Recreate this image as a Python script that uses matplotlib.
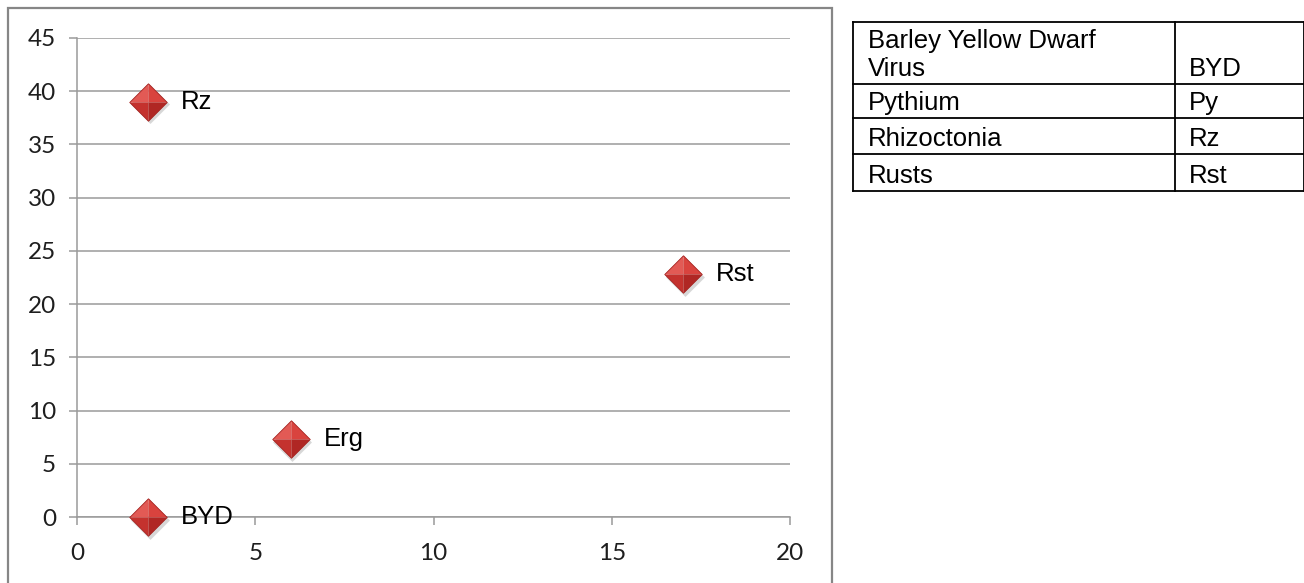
import matplotlib
matplotlib.use("Agg")
import matplotlib.pyplot as plt
from matplotlib.transforms import offset_copy

# Disease points: x position, y position, short label
labels = ["Rz", "Rst", "Erg", "BYD"]
x_vals = [2, 17, 6, 2]
y_vals = [39, 22.8, 7.3, 0]

x_ticks = [0, 5, 10, 15, 20]
y_ticks = [0, 5, 10, 15, 20, 25, 30, 35, 40, 45]

# Abbreviation key
key_names = ["Barley Yellow Dwarf\nVirus", "Pythium", "Rhizoctonia", "Rusts"]
key_abbrev = ["BYD", "Py", "Rz", "Rst"]

W, H, DPI = 1304, 583, 100
fig = plt.figure(figsize=(W / DPI, H / DPI), dpi=DPI)
fig.patch.set_facecolor("white")

# overlay axes in pixel coordinates for the frame and the key table
frame = fig.add_axes([0, 0, 1, 1])
frame.set_xlim(0, W)
frame.set_ylim(H, 0)
frame.axis("off")

ax = fig.add_axes([77 / W, 1 - 517 / H, (790 - 77) / W, (517 - 38) / H])
ax.set_xlim(0, 20)
ax.set_ylim(0, 45)
ax.set_xticks(x_ticks)
ax.set_yticks(y_ticks)
ax.yaxis.grid(True, color="#9a9a9a", linewidth=1.1)
ax.set_axisbelow(True)
for side in ["top", "right"]:
    ax.spines[side].set_visible(False)
for side in ["left", "bottom"]:
    ax.spines[side].set_color("#9a9a9a")
    ax.spines[side].set_linewidth(1.1)
ax.tick_params(axis="both", direction="out", length=6, width=1.1, color="#9a9a9a",
               labelsize=17.5, labelcolor="#1e1e1e")
ax.tick_params(axis="y", pad=9)
ax.tick_params(axis="x", pad=13)
for t in ax.get_xticklabels() + ax.get_yticklabels():
    t.set_family("Lato")

# bevelled diamond markers built from four triangular facets
facets = {
    "tl": ([(0, 0), (-1, 0), (0, 1), (0, 0)], "#e25a55"),
    "tr": ([(0, 0), (0, 1), (1, 0), (0, 0)], "#d9433e"),
    "bl": ([(0, 0), (-1, 0), (0, -1), (0, 0)], "#c4322e"),
    "br": ([(0, 0), (1, 0), (0, -1), (0, 0)], "#b02724"),
}
ms = 27
diamond = [(0, 1), (1, 0), (0, -1), (-1, 0), (0, 1)]
shadow_tr = offset_copy(ax.transData, fig=fig, x=1.5, y=-2.5, units="dots")
ax.plot(x_vals, y_vals, linestyle="none", marker=diamond, markersize=ms + 1,
        markerfacecolor="#bdbdbd", markeredgewidth=0, alpha=0.6,
        transform=shadow_tr, clip_on=False, zorder=3)
for verts, col in facets.values():
    ax.plot(x_vals, y_vals, linestyle="none", marker=verts, markersize=ms,
            markerfacecolor=col, markeredgewidth=0, clip_on=False, zorder=4)
ax.plot(x_vals, y_vals, linestyle="none", marker=diamond, markersize=ms,
        markerfacecolor="none", markeredgecolor="#a52320", markeredgewidth=0.6,
        clip_on=False, zorder=5)

for lab, xv, yv in zip(labels, x_vals, y_vals):
    ax.annotate(lab, (xv, yv), xytext=(23.5, 0), textcoords="offset points",
                ha="left", va="center", fontsize=18.5, family="Liberation Sans",
                color="black", zorder=6, annotation_clip=False)

# chart frame
frame.plot([8, 8, 832, 832], [H + 5, 8, 8, H + 5], color="#868686", linewidth=1.6,
           solid_joinstyle="miter")

# key table
tl, tm, tr = 853, 1175, 1304
rows = [22, 84, 118, 154, 191]
lw = 1.3
for y in rows:
    frame.plot([tl, tr], [y, y], color="black", linewidth=lw)
for x in [tl, tm, tr - 0.5]:
    frame.plot([x, x], [rows[0], rows[-1]], color="black", linewidth=lw)
for i, (name, ab) in enumerate(zip(key_names, key_abbrev)):
    bottom = rows[i + 1] - 8
    frame.text(tl + 15, bottom, name, ha="left", va="baseline", fontsize=18.5,
               family="Liberation Sans", color="black", linespacing=1.22)
    frame.text(tm + 14, bottom, ab, ha="left", va="baseline", fontsize=18.5,
               family="Liberation Sans", color="black")

fig.savefig("out.png", dpi=DPI, facecolor="white")
